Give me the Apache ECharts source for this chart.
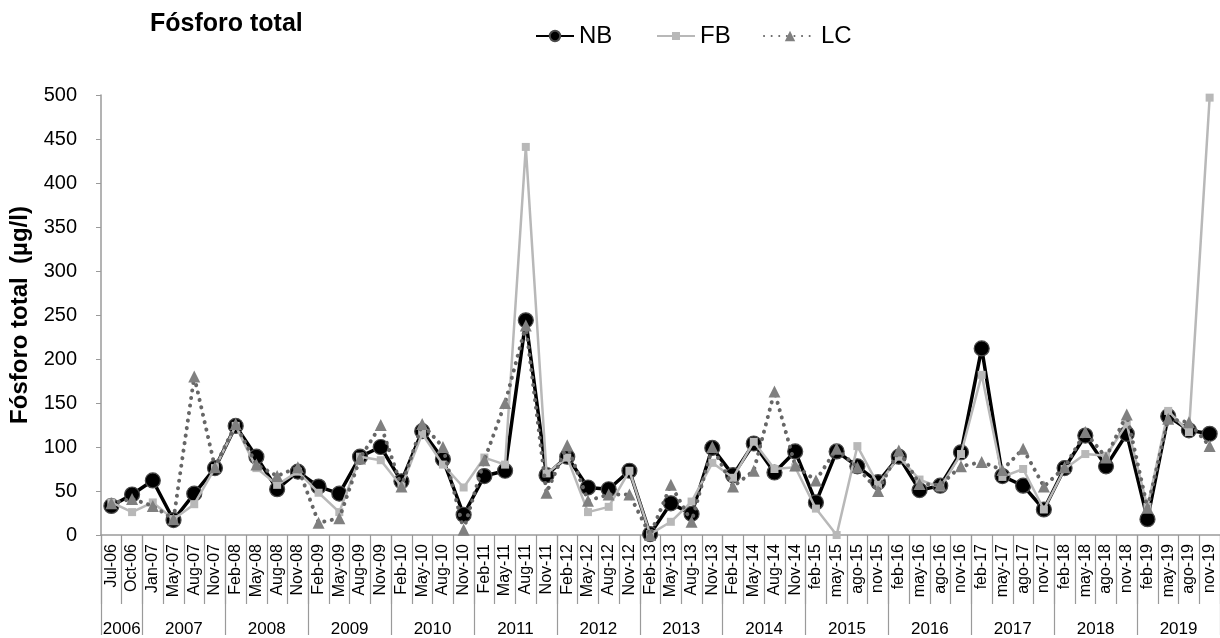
<!DOCTYPE html>
<html>
<head>
<meta charset="utf-8">
<script src="https://cdn.jsdelivr.net/npm/echarts@6/dist/echarts.min.js"></script>
<style>
html,body{margin:0;padding:0;background:#fff;}
#c{width:1220px;height:638px;}
</style>
</head>
<body>
<div id="c"></div>
<script>
const categories = ['Jul-06','Oct-06','Jan-07','May-07','Aug-07','Nov-07','Feb-08','May-08','Aug-08','Nov-08','Feb-09','May-09','Aug-09','Nov-09','Feb-10','May-10','Aug-10','Nov-10','Feb-11','May-11','Aug-11','Nov-11','Feb-12','May-12','Aug-12','Nov-12','Feb-13','May-13','Aug-13','Nov-13','Feb-14','May-14','Aug-14','Nov-14','feb-15','may-15','ago-15','nov-15','feb-16','may-16','ago-16','nov-16','feb-17','may-17','ago-17','nov-17','feb-18','may-18','ago-18','nov-18','feb-19','may-19','ago-19','nov-19'];

const NB = [33,46,62,17,47,76,124,89,52,72,55,47,89,100,61,118,86,23,
            67,73,244,68,89,54,52,73,1,36,24,99,68,104,71,95,37,95,
            78,60,89,51,56,94,212,67,56,29,76,113,78,115,18,135,119,115];
const FB = [37,26,37,18,35,76,124,76,57,72,48,26,89,85,55,115,80,54,
            88,80,441,70,88,26,32,73,1,15,38,82,65,106,75,77,30,0,
            101,57,89,63,54,92,182,66,75,29,75,92,90,126,32,141,117,497];
const LC = [36,41,33,18,180,77,126,80,67,77,14,19,87,125,55,126,100,6,
            85,150,238,48,102,39,46,46,0,57,15,100,55,73,163,79,62,98,
            77,50,96,58,57,78,83,74,98,55,77,117,88,137,31,132,128,101];

const yTicks = [0,50,100,150,200,250,300,350,400,450,500];

// Year grouping derived from category suffixes
const catYears = categories.map(c => '20' + c.slice(-2));
const yearAxisData = new Array(categories.length + 1).fill('');
const dividerIdx = new Set([0]);
const centerIdx = new Set();
{
  let start = 0;
  for (let i = 1; i <= catYears.length; i++) {
    if (i === catYears.length || catYears[i] !== catYears[start]) {
      dividerIdx.add(i);
      const mid = (start + i) / 2;
      yearAxisData[mid] = catYears[start];
      centerIdx.add(mid);
      start = i;
    }
  }
}

const FONT = "'Liberation Sans', Arial, sans-serif";
const axisGrey = '#9a9a9a';

const chart = echarts.init(document.getElementById('c'), null, {renderer: 'canvas'});
chart.setOption({
  animation: false,
  backgroundColor: '#ffffff',
  textStyle: {fontFamily: FONT, color: '#000'},
  title: {
    text: 'Fósforo total',
    left: 145, top: 7,
    textStyle: {fontFamily: FONT, fontSize: 25, fontWeight: 'bold', color: '#000'}
  },
  legend: [
    {data: ['NB'], left: 530, top: 19, itemWidth: 38, itemHeight: 13, itemGap: 4,
     textStyle: {fontFamily: FONT, fontSize: 24, color: '#000'}},
    {data: ['FB'], left: 651, top: 19, itemWidth: 38, itemHeight: 10, itemGap: 4,
     textStyle: {fontFamily: FONT, fontSize: 24, color: '#000'}},
    {data: ['LC'], left: 758, top: 19, itemWidth: 52, itemHeight: 13, itemGap: 4,
     textStyle: {fontFamily: FONT, fontSize: 24, color: '#000'}}
  ],
  grid: {left: 101, right: 0, top: 95, bottom: 95, containLabel: false},
  xAxis: [
    {
      type: 'category',
      data: categories,
      position: 'bottom',
      boundaryGap: true,
      axisLine: {show: true, lineStyle: {color: axisGrey, width: 1.5}},
      axisTick: {show: true, interval: 0, length: 69, lineStyle: {color: axisGrey, width: 1.2}},
      axisLabel: {interval: 0, rotate: 90, margin: 9, fontSize: 16, color: '#000', fontFamily: FONT}
    },
    {
      type: 'category',
      data: yearAxisData,
      position: 'bottom',
      boundaryGap: false,
      axisLine: {show: false},
      axisTick: {show: true, interval: (i) => dividerIdx.has(i), length: 100, lineStyle: {color: axisGrey, width: 1.2}},
      axisLabel: {interval: (i) => centerIdx.has(i), margin: 86, fontSize: 17, color: '#000', fontFamily: FONT}
    }
  ],
  yAxis: {
    type: 'value',
    min: yTicks[0], max: yTicks[yTicks.length - 1], interval: 50,
    name: 'Fósforo total  (µg/l)',
    nameLocation: 'middle',
    nameGap: 49,
    nameTextStyle: {fontFamily: FONT, fontSize: 24, fontWeight: 'bold', color: '#000'},
    splitLine: {show: false},
    axisLine: {show: true, lineStyle: {color: axisGrey, width: 1.5}},
    axisTick: {show: true, length: 5, lineStyle: {color: axisGrey}},
    axisLabel: {fontSize: 20, color: '#000', margin: 24, fontFamily: FONT}
  },
  series: [
    {
      name: 'NB', type: 'line', data: NB,
      symbol: 'circle', symbolSize: 15,
      lineStyle: {color: '#000', width: 3.5},
      itemStyle: {color: '#000', borderColor: '#4a4a4a', borderWidth: 1.2},
      z: 2
    },
    {
      name: 'FB', type: 'line', data: FB,
      symbol: 'rect', symbolSize: 8,
      lineStyle: {color: '#b8b8b8', width: 2.5},
      itemStyle: {color: '#b8b8b8'},
      z: 3
    },
    {
      name: 'LC', type: 'line', data: LC,
      symbol: 'triangle', symbolSize: 12,
      lineStyle: {color: '#666666', width: 4, type: [0.1, 7.5], cap: 'round'},
      itemStyle: {color: '#808080'},
      z: 4
    }
  ]
});
</script>
</body>
</html>
